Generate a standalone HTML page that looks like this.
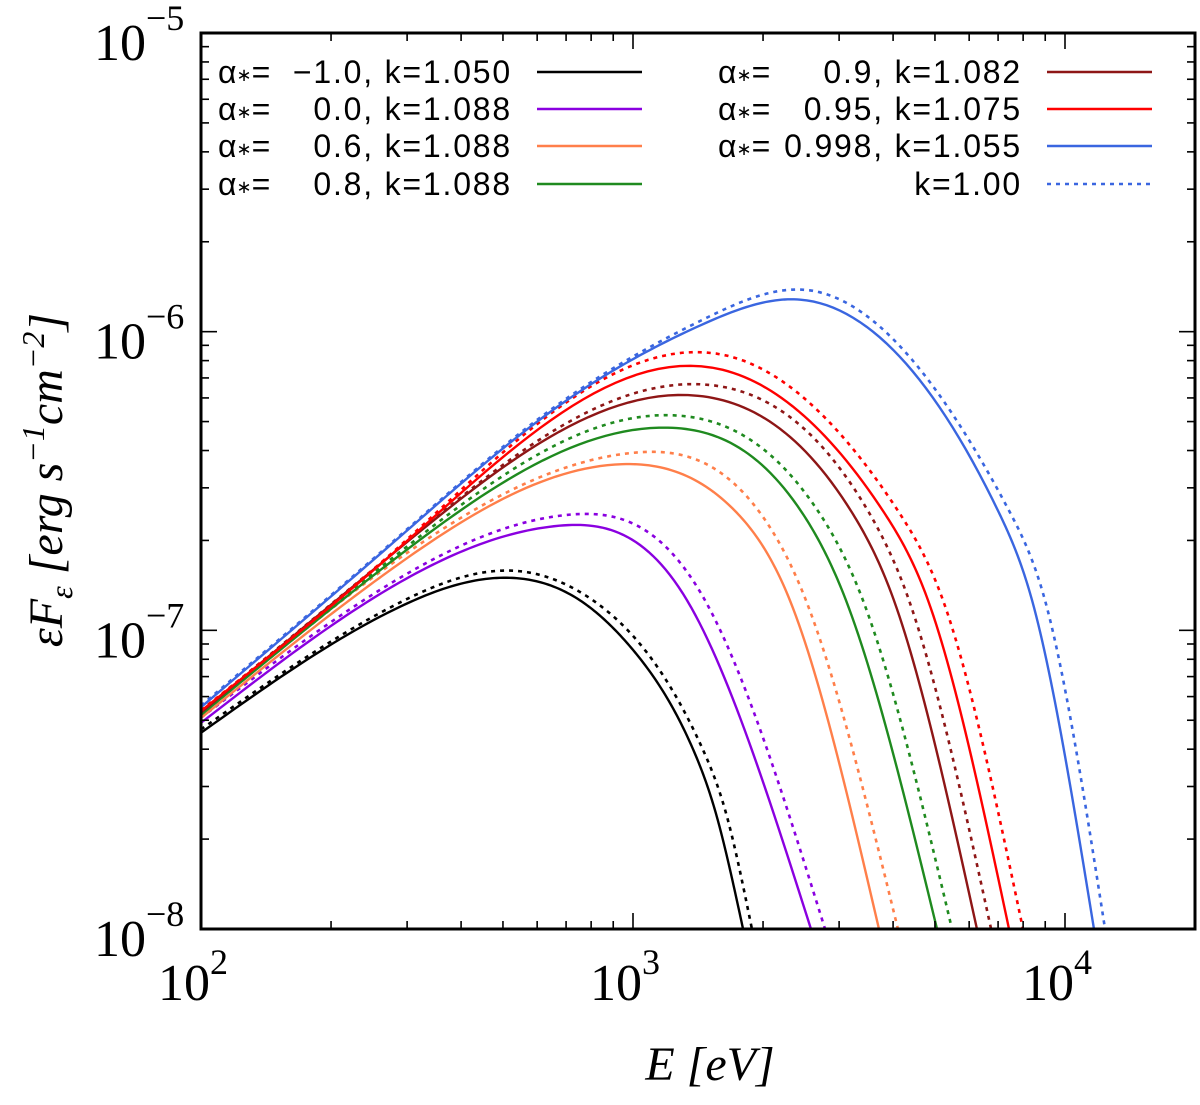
<!DOCTYPE html>
<html><head><meta charset="utf-8"><style>
html,body{margin:0;padding:0;background:#fff;}
svg{display:block;}
text{white-space:pre;}
</style></head><body>
<svg id="chart" width="1200" height="1105" viewBox="0 0 1200 1105" xmlns="http://www.w3.org/2000/svg">
<g id="plot"></g>
<g id="axes"></g>
<g id="legend"></g>
<text x="710" y="1080" text-anchor="middle" font-family="Liberation Serif, serif" font-size="48" font-style="italic">E [eV]</text>
<text transform="translate(62,480) rotate(-90)" text-anchor="middle" font-family="Liberation Serif, serif" font-size="48" font-style="italic">εF<tspan font-size="32" dy="10">ε</tspan><tspan dy="-10"> [erg s</tspan><tspan font-size="32" dy="-18">−1</tspan><tspan dy="18">cm</tspan><tspan font-size="32" dy="-18">−2</tspan><tspan dy="18">]</tspan></text>
</svg>
<script>
// ---- data ----
const xTickLabels = ["2","3","4"];
const yTickLabels = ["-5","-6","-7","-8"];
const seriesNames = ["a-1.0","a0.0","a0.6","a0.8","a0.9","a0.95","a0.998"];
const seriesColors = ["#000000","#8a00e0","#ff7f4a","#1f8a1f","#8e1616","#ff0000","#3a66e0"];
const legendLabels = ["−1.0, k=1.050","0.0, k=1.088","0.6, k=1.088","0.8, k=1.088","0.9, k=1.082","0.95, k=1.075","0.998, k=1.055"];
const E_black = [100,289,511,754,1000,1377,1563,1798];
const F_black = [4.54e-8,1.20e-7,1.50e-7,1.26e-7,8.6e-8,4.0e-8,2.38e-8,1.0e-8];
const E_blackD = [100,289,540,808,1065,1450,1650,1885];
const F_blackD = [4.66e-8,1.24e-7,1.58e-7,1.26e-7,8.6e-8,4.0e-8,2.38e-8,1.0e-8];
const E_purple = [100,289,675,1334,2582];
const F_purple = [4.90e-8,1.45e-7,2.24e-7,1.26e-7,1.0e-8];
const E_purpleD = [100,289,715,1468,2783];
const F_purpleD = [5.10e-8,1.50e-7,2.44e-7,1.26e-7,1.0e-8];
const E_orange = [100,289,944,1737,2308,3710];
const F_orange = [5.09e-8,1.68e-7,3.60e-7,2.48e-7,1.26e-7,1.0e-8];
const E_orangeD = [100,289,1000,1966,2514,4105];
const F_orangeD = [5.20e-8,1.75e-7,3.93e-7,2.48e-7,1.26e-7,1.0e-8];
const E_green = [100,289,1205,2461,3112,5055];
const F_green = [5.21e-8,1.79e-7,4.77e-7,2.48e-7,1.26e-7,1.0e-8];
const E_greenD = [100,289,1306,2695,3407,5475];
const F_greenD = [5.30e-8,1.83e-7,5.22e-7,2.48e-7,1.26e-7,1.0e-8];
const E_dred = [100,289,1413,3213,4018,6254];
const F_dred = [5.30e-8,1.89e-7,6.10e-7,2.48e-7,1.26e-7,1.0e-8];
const E_dredD = [100,289,1507,3517,4355,6744];
const F_dredD = [5.35e-8,1.90e-7,6.63e-7,2.48e-7,1.26e-7,1.0e-8];
const E_red = [100,289,1614,3812,4819,7420];
const F_red = [5.37e-8,1.90e-7,7.45e-7,2.48e-7,1.26e-7,1.0e-8];
const E_redD = [100,289,1757,4130,5220,7993];
const F_redD = [5.40e-8,1.92e-7,8.10e-7,2.48e-7,1.26e-7,1.0e-8];
const E_blue = [100,289,653,1475,2440,7030,8390,11670];
const F_blue = [5.53e-8,2.06e-7,5.47e-7,1.07e-6,1.28e-6,2.48e-7,1.26e-7,1.0e-8];
const E_blueD = [100,289,653,1475,2610,7460,8990,12380];
const F_blueD = [5.60e-8,2.08e-7,5.55e-7,1.11e-6,1.37e-6,2.48e-7,1.26e-7,1.0e-8];

// ---- axes ----
const X0=201, X1=1195, Y0=33, Y1=929;
const xMinLog=2, xDec=432, yMaxLog=-5, yDec=(Y1-Y0)/3;
function sx(E){return X0+(Math.log10(E)-xMinLog)*xDec;}
function sy(F){return Y0+(yMaxLog-Math.log10(F))*yDec;}
const NS="http://www.w3.org/2000/svg";
function mk(tag,attrs,parent){const e=document.createElementNS(NS,tag);for(const k in attrs)e.setAttribute(k,attrs[k]);parent.appendChild(e);return e;}

const plot=document.getElementById('plot');
const axes=document.getElementById('axes');
const legend=document.getElementById('legend');
const defs=mk('defs',{},plot);
const cp=mk('clipPath',{id:'clip'},defs);
mk('rect',{x:X0,y:Y0,width:X1-X0,height:Y1-Y0},cp);

// natural cubic spline in log-log (screen) space
function curvePath(Es,Fs){
  const xs=Es.map(e=>sx(e)), ys=Fs.map(f=>sy(f)); const n=xs.length;
  const h=[],al=[0];for(let i=0;i<n-1;i++)h.push(xs[i+1]-xs[i]);
  for(let i=1;i<n-1;i++)al.push(3/h[i]*(ys[i+1]-ys[i])-3/h[i-1]*(ys[i]-ys[i-1]));
  const l=[1],mu=[0],z=[0];
  for(let i=1;i<n-1;i++){l[i]=2*(xs[i+1]-xs[i-1])-h[i-1]*mu[i-1];mu[i]=h[i]/l[i];z[i]=(al[i]-h[i-1]*z[i-1])/l[i];}
  const c=new Array(n).fill(0),b=[],d=[];
  for(let j=n-2;j>=0;j--){c[j]=z[j]-mu[j]*c[j+1];b[j]=(ys[j+1]-ys[j])/h[j]-h[j]*(c[j+1]+2*c[j])/3;d[j]=(c[j+1]-c[j])/(3*h[j]);}
  let p=`M${xs[0].toFixed(2)},${ys[0].toFixed(2)}`;
  for(let j=0;j<n-1;j++){const steps=30;for(let s=1;s<=steps;s++){const t=h[j]*s/steps;const y=ys[j]+b[j]*t+c[j]*t*t+d[j]*t*t*t;p+=` L${(xs[j]+t).toFixed(2)},${y.toFixed(2)}`;}}
  const hl=h[n-2],slope=b[n-2]+2*c[n-2]*hl+3*d[n-2]*hl*hl;
  p+=` L${(xs[n-1]+20/slope).toFixed(2)},${(ys[n-1]+20).toFixed(2)}`;
  return p;
}
const solidSets=[[E_black,F_black],[E_purple,F_purple],[E_orange,F_orange],[E_green,F_green],[E_dred,F_dred],[E_red,F_red],[E_blue,F_blue]];
const dashSets=[[E_blackD,F_blackD],[E_purpleD,F_purpleD],[E_orangeD,F_orangeD],[E_greenD,F_greenD],[E_dredD,F_dredD],[E_redD,F_redD],[E_blueD,F_blueD]];
const cg=mk('g',{'clip-path':'url(#clip)'},plot);
for(let i=0;i<seriesNames.length;i++){
  const pd=mk('path',{d:curvePath(dashSets[i][0],dashSets[i][1]),fill:'none',stroke:seriesColors[i],'stroke-width':2.6,'stroke-dasharray':'4,5'},cg);
  
  
  const ps=mk('path',{d:curvePath(solidSets[i][0],solidSets[i][1]),fill:'none',stroke:seriesColors[i],'stroke-width':2.4},cg);
  
  
}

const fr=mk('rect',{x:X0,y:Y0,width:X1-X0,height:Y1-Y0,fill:'none',stroke:'#000','stroke-width':3},axes);


for(let dec=2;dec<=4;dec++){
  for(let k=1;k<=9;k++){
    const E=k*Math.pow(10,dec); const x=sx(E); if(x>X1)continue;
    const L=(k===1)?16:8;
    mk('line',{x1:x,y1:Y1,x2:x,y2:Y1-L,stroke:'#000','stroke-width':1.6},axes);
    mk('line',{x1:x,y1:Y0,x2:x,y2:Y0+L,stroke:'#000','stroke-width':1.6},axes);
  }
}
xTickLabels.forEach((lab,i)=>{
  const x=sx(Math.pow(10,2+i));
  const t=mk('text',{x:x-8,y:1000,'text-anchor':'middle','font-family':'Liberation Serif, serif','font-size':52},axes);
  
  
  t.innerHTML='10<tspan font-size="36" dy="-26">'+lab+'</tspan>';
});
for(let dec=-8;dec<=-6;dec++){
  for(let k=1;k<=9;k++){
    const F=k*Math.pow(10,dec); const y=sy(F);
    const L=(k===1)?16:8;
    mk('line',{x1:X0,y1:y,x2:X0+L,y2:y,stroke:'#000','stroke-width':1.6},axes);
    mk('line',{x1:X1,y1:y,x2:X1-L,y2:y,stroke:'#000','stroke-width':1.6},axes);
  }
}
yTickLabels.forEach((lab,i)=>{
  const y=sy(Math.pow(10,-5-i));
  const t=mk('text',{x:94,y:y+27,'font-family':'Liberation Serif, serif','font-size':52},axes);
  
  
  t.innerHTML='10<tspan font-size="36" dy="-30">'+lab.replace('-','−')+'</tspan>';
});

const rowsY=[72,109,146,184];
for(let i=0;i<7;i++){
  const col=i<4?0:1, row=i<4?i:i-4;
  const y=rowsY[row];
  const lx0=col?1047:537, lx1=col?1152:642;
  const g=mk('g',{},legend);
  
  
  mk('line',{x1:lx0,y1:y,x2:lx1,y2:y,stroke:seriesColors[i],'stroke-width':2.4},g);
  const ta=mk('text',{x:col?718:218,y:y+11,'font-family':'Liberation Sans, sans-serif','font-size':32},g);
  ta.innerHTML='α<tspan font-size="18" dy="-2">∗</tspan><tspan dy="2">=</tspan>';
  const tb=mk('text',{x:col?1022:512,y:y+11,'text-anchor':'end','font-family':'Liberation Sans, sans-serif','font-size':32,'letter-spacing':1.8},g);
  tb.textContent=legendLabels[i];
}
const gk=mk('g',{},legend);


mk('line',{x1:1047,y1:184,x2:1152,y2:184,stroke:'#3a66e0','stroke-width':2.6,'stroke-dasharray':'4,5'},gk);
const tk=mk('text',{x:1022,y:195,'text-anchor':'end','font-family':'Liberation Sans, sans-serif','font-size':32,'letter-spacing':1.8},gk);
tk.textContent='k=1.00';
</script>
</body></html>
